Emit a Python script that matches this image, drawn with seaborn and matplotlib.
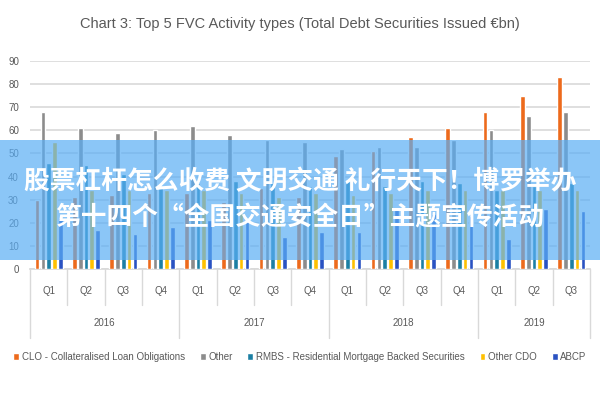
import matplotlib
matplotlib.use("Agg")
import matplotlib.pyplot as plt
import matplotlib.transforms as mtransforms
from matplotlib.patches import Rectangle
import seaborn as sns
import pandas as pd

# ---- data ----
years = ['2016'] * 4 + ['2017'] * 4 + ['2018'] * 4 + ['2019'] * 3
quarters = ['Q1', 'Q2', 'Q3', 'Q4'] * 3 + ['Q1', 'Q2', 'Q3']
clo = [30, 31, 32, 33, 33, 29, 35, 31, 49, 51, 57, 61, 68, 75, 83]
other = [68, 61, 59, 60, 62, 58, 56, 55, 52, 53, 53, 56, 60, 66, 68]
rmbs = [46, 45, 41, 36, 37, 38, 37, 36, 38, 36, 38, 37, 34, 36, 37]
other_cdo = [55, 34, 34, 34, 34, 33, 31, 33, 32, 33, 34, 34, 34, 34, 34]
abcp = [22, 17, 15, 18, 21, 21, 14, 16, 16, 27, 24, 23, 13, 26, 25]
series_names = ['CLO - Collateralised Loan Obligations', 'Other',
                'RMBS - Residential Mortgage Backed Securities', 'Other CDO', 'ABCP']
series_colors = ['#ED6A1C', '#8C8C8C', '#1C7FA3', '#FFC000', '#2A52C2']
title = 'Chart 3: Top 5 FVC Activity types (Total Debt Securities Issued €bn)'
banner_lines = ['股票杠杆怎么收费 文明交通 礼行天下！博罗举办',
                '第十四个“全国交通安全日”主题宣传活动']

labels = [f'{y} {q}' for y, q in zip(years, quarters)]
rows = []
for name, vals in zip(series_names, [clo, other, rmbs, other_cdo, abcp]):
    for lab, v in zip(labels, vals):
        rows.append({'period': lab, 'series': name, 'value': v})
df = pd.DataFrame(rows)

sns.set_theme(style='white')
plt.rcParams['font.family'] = ['Liberation Sans', 'DejaVu Sans']

fig = plt.figure(figsize=(6, 4), dpi=100)
ax = fig.add_axes([30 / 600, 1 - 269 / 400, 560 / 600, 208 / 400])

sns.barplot(data=df, x='period', y='value', hue='series', order=labels,
            hue_order=series_names, palette=dict(zip(series_names, series_colors)),
            width=0.78, gap=0.2, ax=ax, saturation=1, legend=True, zorder=3)

ax.set_ylim(0, 90)
ax.set_xlim(-0.5, len(labels) - 0.5)
ax.set_yticks(range(0, 91, 10))
ax.yaxis.grid(True, color='#D9D9D9', lw=1.2, zorder=0)
ax.set_axisbelow(True)
for s in ['top', 'right', 'left']:
    ax.spines[s].set_visible(False)
ax.spines['bottom'].set_color('#D9D9D9')
ax.tick_params(axis='y', length=0, pad=8, labelsize=7, labelcolor='#595959')
ax.tick_params(axis='x', length=0, pad=12, labelsize=7, labelcolor='#595959')
ax.set_xticks(range(len(labels)))
ax.set_xticklabels(quarters)
ax.set_xlabel('')
ax.set_ylabel('')

# multi-level category axis
trans = mtransforms.blended_transform_factory(ax.transData, ax.transAxes)
for i in range(len(labels) + 1):
    x = i - 0.5
    is_year_edge = i == 0 or i == len(labels) or years[i] != years[i - 1]
    y0 = -0.33 if is_year_edge else -0.175
    ax.plot([x, x], [0, y0], transform=trans, color='#D9D9D9', lw=1, clip_on=False)
start = 0
for i in range(1, len(labels) + 1):
    if i == len(labels) or years[i] != years[start]:
        ax.text((start + i - 1) / 2, -0.258, years[start], transform=trans,
                ha='center', va='center', fontsize=7, color='#595959')
        start = i

fig.text(0.5, 1 - 24 / 400, title, ha='center', va='center', fontsize=10.5, color='#595959')

handles, labs = ax.get_legend_handles_labels()
ax.legend(handles, labs, loc='center', bbox_to_anchor=(0.5, 1 - 357 / 400),
          bbox_transform=fig.transFigure, ncol=5, frameon=False, fontsize=7,
          handlelength=0.6, handleheight=0.6, handletextpad=0.3, columnspacing=1.5,
          labelcolor='#595959')

# banner overlay
fig.patches.append(Rectangle((0, 1 - 260 / 400), 1, 120 / 400, transform=fig.transFigure,
                             facecolor='#5AAEF5', alpha=0.7, edgecolor='none', zorder=5))
for txt, yy in zip(banner_lines, [182, 218]):
    fig.text(0.5, 1 - yy / 400, txt, ha='center', va='center', fontsize=18.5,
             color='white', fontweight='bold', family=['Noto Sans CJK SC', 'DejaVu Sans'],
             zorder=6)

fig.savefig('out.png', dpi=100)
